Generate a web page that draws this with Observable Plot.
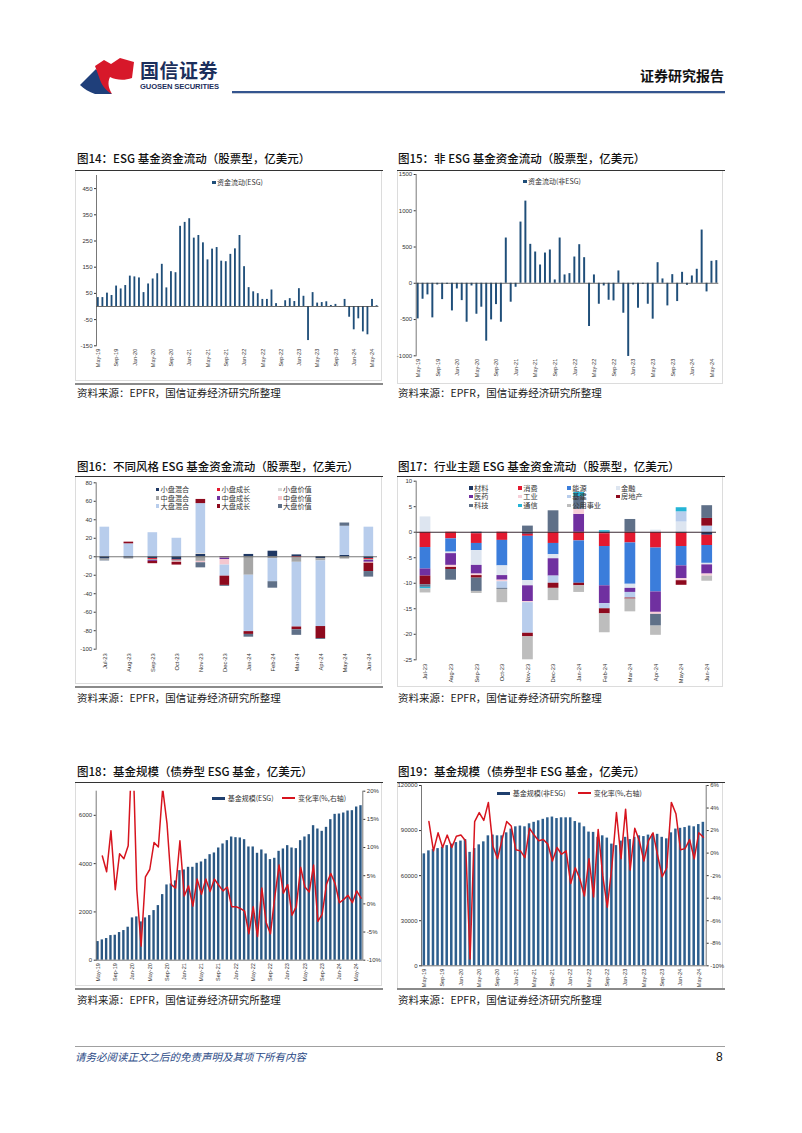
<!DOCTYPE html>
<html><head><meta charset="utf-8">
<script src="https://cdn.jsdelivr.net/npm/d3@7"></script>
<script src="https://cdn.jsdelivr.net/npm/@observablehq/plot@0.6"></script>
<style>
body{margin:0;background:#fff;}
#page{position:relative;width:802px;height:1133px;overflow:hidden;font-family:"Noto Sans CJK SC","Noto Sans",sans-serif;color:#222;background:#fff;}
.t{position:absolute;white-space:nowrap;}
.title{font-size:11.5px;line-height:14px;font-weight:500;color:#111;}
.src{font-size:10.5px;line-height:14px;color:#222;}
.leg{position:absolute;white-space:nowrap;font-size:7px;line-height:8px;height:8px;color:#333;font-family:"Noto Sans CJK SC",sans-serif;}
.sq{display:inline-block;width:3.5px;height:3.5px;margin-right:1.5px;vertical-align:1px;}
</style></head><body><div id="page"></div>
<script>
// ---------- DATA ----------
const months = ["May-19","Jun-19","Jul-19","Aug-19","Sep-19","Oct-19","Nov-19","Dec-19",
"Jan-20","Feb-20","Mar-20","Apr-20","May-20","Jun-20","Jul-20","Aug-20","Sep-20","Oct-20","Nov-20","Dec-20",
"Jan-21","Feb-21","Mar-21","Apr-21","May-21","Jun-21","Jul-21","Aug-21","Sep-21","Oct-21","Nov-21","Dec-21",
"Jan-22","Feb-22","Mar-22","Apr-22","May-22","Jun-22","Jul-22","Aug-22","Sep-22","Oct-22","Nov-22","Dec-22",
"Jan-23","Feb-23","Mar-23","Apr-23","May-23","Jun-23","Jul-23","Aug-23","Sep-23","Oct-23","Nov-23","Dec-23",
"Jan-24","Feb-24","Mar-24","Apr-24","May-24","Jun-24"];
const tickMonths = ["May-19","Sep-19","Jan-20","May-20","Sep-20","Jan-21","May-21","Sep-21","Jan-22","May-22","Sep-22","Jan-23","May-23","Sep-23","Jan-24","May-24"];

const flowESG = [34,34,51,42,78,67,80,116,113,109,53,86,105,125,161,71,133,129,306,321,
335,261,271,243,178,219,225,173,171,199,220,271,152,72,56,49,27,27,63,11,
-3,22,30,19,68,39,-130,53,13,15,18,4,8,-1,27,-41,-89,-47,-97,-108,27,3];
const flowNonESG = [-491,-220,-160,-477,-23,-225,-14,-381,-78,-239,-537,-37,-427,-330,-798,-505,-294,-537,624,-261,
-55,844,1133,537,431,252,417,459,46,624,115,133,362,532,353,-596,115,-289,-37,-234,
-243,170,-413,-1009,-23,-344,-14,-289,-495,284,60,-312,119,-252,151,-28,101,193,734,-119,303,312];

const months12 = ["Jul-23","Aug-23","Sep-23","Oct-23","Nov-23","Dec-23","Jan-24","Feb-24","Mar-24","Apr-24","May-24","Jun-24"];

// Fig16 style series
const styleNames = ["小盘混合","小盘成长","小盘价值","中盘混合","中盘成长","中盘价值","大盘混合","大盘成长","大盘价值"];
const styleColors = ["#1f3864","#e3192f","#d9d9d9","#a6a6a6","#7030a0","#f4c7cf","#b8cdec","#8e0a1e","#5f7088"];
const smallBlend  = [-2.5,-1.5,-2,-3.5,2.5,-0.5,2.5,6,2,-2,1.5,-2];
const smallGrowth = [0,0,-1,-0.5,0,-0.5,0,0,-1,0,0,-1];
const smallValue  = [0,0,0,0,1,0,0,0,0,0,0,0];
const midBlend    = [-1.5,-1,-1,-1,-5,-0.5,-20,-2,-5,-2.5,-2.5,-1];
const midGrowth   = [0,0,-1,0,0,-1.5,0,0,0,0,0,-2];
const midValue    = [0,0,0,-1,-1.5,-6,0,0,0,0,0,-1];
const largeBlend  = [32,14,26,20,54,-12,-61,-25,-70,-71,31.5,32];
const largeGrowth = [0,1.8,-2.5,-3,4.5,-10,-3,0,-3,-13,0,-9];
const largeValue  = [-0.5,0,0,0,-5.5,-1,-3,-7,-6,-1,3.5,-6];
const styleSeries = [smallBlend,smallGrowth,smallValue,midBlend,midGrowth,midValue,largeBlend,largeGrowth,largeValue];

// Fig17 sector series
const sectorNames = ["材料","消费","能源","金融","医药","工业","基建","房地产","科技","通信","公用事业"];
const sectorColors = ["#1f3864","#e3192f","#3b7ddb","#dde5f0","#7030a0","#f7cfd8","#b8cdec","#8e0a1e","#5f7088","#24b4d6","#bdbdbd"];
const materials = [0,0,-0.3,0,-0.4,0,0,-0.3,0,0,-0.2,-0.6];
const consumer  = [-3,-1.3,-1.9,-1.6,-0.4,-2.2,-1.7,-2.5,-2.1,-3.1,-2.6,-2];
const energy    = [-4.2,-2.6,-1.4,-5,-8.7,-2.2,-8.3,-7.7,-8.1,-8.6,-3.8,-3.5];
const financial = [3,-0.3,-2.9,-1.9,-1,-0.8,0,0,-0.8,0.4,2,-0.3];
const health    = [-1.4,-2.3,-1.7,-0.9,-3.1,-3.4,3.5,-3.5,-0.8,-4,-2.5,-1.8];
const industry  = [0,-0.4,-0.3,-0.3,-0.2,0,1,0,0,-0.4,-0.4,-0.4];
const infra     = [0,0,0,-1.3,-6,-1.4,0,-1,-1.1,0,2,1.2];
const realEstate= [-1.7,-0.4,-0.5,0,-0.7,-1,-0.5,-1,-0.2,0,-0.9,1.5];
const tech      = [-0.5,-2.1,-2.6,-0.2,1.2,4.2,2.5,0,2.5,-2.3,0,2.5];
const telecom   = [-0.3,0,0,0,0,0,0.8,0.3,0,0,0.8,0];
const utilities = [-0.8,0,-0.4,-2.6,-4.5,-2.4,-1.3,-3.7,-2.5,-1.8,0,-1];
const sectorSeries = [materials,consumer,energy,financial,health,industry,infra,realEstate,tech,telecom,utilities];

// Fig18 ESG bond funds
const sizeESG = [772,841,897,1020,1034,1145,1228,1366,1752,1793,1586,1752,1848,2055,2262,2717,3117,3159,3283,3710,
3738,3848,3848,4014,4069,4179,4372,4441,4648,4814,4952,5103,5076,5062,4993,4690,4690,4428,4566,4400,
4166,4221,4510,4607,4745,4648,4621,4952,5103,5200,5572,5434,5338,5503,5821,6041,6055,6097,6179,6193,6345,6400];
const rateESG = [null,8.5,5.7,13.0,2.5,8.9,8.0,10.3,
30,2.5,-7.5,4.8,6.1,10.9,10.1,20.5,14.3,3.4,2.8,11.2,
1.4,3.2,-0.4,4.4,1.7,4.4,2.2,4.4,3.3,2.3,3.0,-0.5,
-0.5,-0.8,-1.3,-5.3,-0.5,-5.8,2.8,-3.3,-5.3,1.2,6.9,1.9,
3.4,-2.0,-0.5,6.5,3.0,2.1,6.9,-3.1,-1.8,3.5,5.4,3.6,
0.2,0.8,1.5,0.2,2.3,1.0];

// Fig19 non-ESG bond funds
const sizeNonESG = [74500,76500,77500,78000,79000,80000,81000,82000,
83000,84000,75500,78000,80500,82500,86500,87000,86500,86500,88500,91000,
92500,93000,92500,94500,95500,96500,97500,98500,99000,98000,98500,98500,
98500,96000,95000,92500,89000,88800,85500,86500,85000,81000,80000,83000,
85500,84000,85500,86500,86000,87000,87500,87500,85500,84500,88500,91000,
91500,92000,93000,92500,94000,95500];
const rateNonESG = [null,2.8,0.2,1.8,0.5,1.6,0.5,1.5,
1.6,1.1,-9.4,2.8,3.6,2.9,4.5,0.6,-0.5,1.2,2.8,2.4,
0.3,0.2,-0.4,2.2,1.6,1.1,1.2,0.8,-0.7,0.5,-0.1,0.2,
-2.7,-1.3,-2.3,-3.8,-0.5,-3.9,2.1,-2.0,-4.8,-1.2,3.6,-0.5,
3.9,-1.5,2.2,1.1,-0.7,1.1,1.8,-0.2,-2.1,-1.3,4.5,3.5,
0.3,0.4,1.2,-0.5,1.8,1.4];

// ---------- HELPERS ----------
const page = document.getElementById("page");
function txt(x, y, s, cls, extra){ const d=document.createElement("div"); d.className="t "+(cls||""); d.style.left=x+"px"; d.style.top=y+"px"; if(extra) Object.assign(d.style, extra); d.textContent=s; page.appendChild(d); return d; }
function box(x, y, w, h, css){ const d=document.createElement("div"); d.style.position="absolute"; d.style.left=x+"px"; d.style.top=y+"px"; d.style.width=w+"px"; d.style.height=h+"px"; Object.assign(d.style, css); page.appendChild(d); return d; }
function place(node, x, y){ const w=document.createElement("div"); w.style.position="absolute"; w.style.left=x+"px"; w.style.top=y+"px"; w.appendChild(node); page.appendChild(w); return node; }
function legSq(x, y, color, label, fs){ const d=document.createElement("div"); d.className="leg"; d.style.left=x+"px"; d.style.top=(y-4)+"px"; if(fs) d.style.fontSize=fs+"px"; d.innerHTML='<span class="sq" style="background:'+color+'"></span>'; d.appendChild(document.createTextNode(label)); page.appendChild(d); }
function legLine(x, y, color, h, label){ const d=document.createElement("div"); d.className="leg"; d.style.left=x+"px"; d.style.top=(y-4)+"px"; d.innerHTML='<span style="display:inline-block;width:13px;height:'+h+'px;background:'+color+';margin-right:3px;vertical-align:'+(h>2?1.5:2.5)+'px"></span>'; d.appendChild(document.createTextNode(label)); page.appendChild(d); }
const baseStyle = {fontFamily:"Liberation Sans, Arial, sans-serif", fontSize:"6px", color:"#333", background:"transparent", overflow:"visible"};
const plain = d => String(d);

// ---------- HEADER ----------
const NS="http://www.w3.org/2000/svg";
const logo=document.createElementNS(NS,"svg"); logo.setAttribute("width","60"); logo.setAttribute("height","40");
logo.innerHTML='<path d="M2,28 L18,12 C22,16 25,22 27,28 C29,32 31,35 34,37 L17,37 C11,35 6,32 2,28 Z" fill="#1f3f7a"/>'+
'<path d="M17,9 L26,3 L33,7 L42,1 L56,5 L54,21 C46,24 38,23 32,20 C29,26 31,32 34,37 C27,33 23,27 21,20 Z" fill="#d7182a"/>';
place(logo, 78, 57);
txt(140, 58, "国信证券", "", {fontSize:"19px", lineHeight:"24px", color:"#1c2f5c", fontWeight:"600", letterSpacing:"0.5px"});
txt(140, 82, "GUOSEN SECURITIES", "", {fontSize:"7.6px", lineHeight:"9px", color:"#1c2f5c", fontWeight:"bold", fontFamily:"Liberation Sans, Arial, sans-serif", letterSpacing:"-0.1px"});
txt(640, 66, "证券研究报告", "", {fontSize:"14px", lineHeight:"18px", fontWeight:"bold", color:"#111"});
box(232, 91, 493, 2, {background:"#34558f"});
box(232, 93, 493, 1, {background:"#c9cfd9"});

// ---------- PANEL FRAMES / TEXT ----------
const rows = [{tt:151, line:170, sep:383, src:386}, {tt:459, line:476, sep:686, src:691}, {tt:764, line:782, sep:988, src:993}];
const titles = [["图14：ESG 基金资金流动（股票型，亿美元）","图15：非 ESG 基金资金流动（股票型，亿美元）"],
["图16：不同风格 ESG 基金资金流动（股票型，亿美元）","图17：行业主题 ESG 基金资金流动（股票型，亿美元）"],
["图18：基金规模（债券型 ESG 基金，亿美元）","图19：基金规模（债券型非 ESG 基金，亿美元）"]];
rows.forEach((r, i) => {
  box(75, r.line, 307, r.sep - r.line - 2, {border:"1px solid #dcdcdc", borderTop:"none", boxSizing:"border-box"});
  box(397, r.line, 326, r.sep - r.line + 1, {border:"1px solid #dcdcdc", borderTop:"none", boxSizing:"border-box"});
  txt(77, r.tt, titles[i][0], "title");
  txt(398, r.tt, titles[i][1], "title");
  box(75, r.line, 308, 1, {background:"#333"});
  box(397, r.line, 328, 1, {background:"#333"});
  box(75, r.sep, 308, 1.5, {background:"#8a8a8a"});
  if (i === 2) box(397, r.sep, 328, 1.5, {background:"#8a8a8a"});
  txt(77, r.src, "资料来源：EPFR，国信证券经济研究所整理", "src");
  txt(398, r.src, "资料来源：EPFR，国信证券经济研究所整理", "src");
});

// ---------- FIG 14 ----------
const d14 = months.map((m, i) => ({m, v: flowESG[i]}));
place(Plot.plot({
  width:308, height:210, marginLeft:21, marginRight:4.6, marginTop:4, marginBottom:35.7,
  style: baseStyle,
  x:{type:"band", domain:months, paddingInner:0.6, paddingOuter:0.2, round:false, label:null},
  y:{domain:[-150,500], label:null},
  marks:[
    Plot.barY(d14, {x:"m", y:"v", fill:"#1f4e79"}),
    Plot.ruleY([0], {stroke:"#444", strokeWidth:0.8}),
    Plot.frame({anchor:"left", stroke:"#555", strokeWidth:0.8}),
    Plot.axisY([-150,-50,50,150,250,350,450], {tickSize:2, tickPadding:2, fontSize:6, tickFormat:plain}),
    Plot.axisX(tickMonths, {anchor:"bottom", tickRotate:-90, tickSize:0, tickPadding:3, fontSize:5.5})
  ]
}), 75, 171);
legSq(212, 182, "#1f4e79", "资金流动(ESG)");

// ---------- FIG 15 ----------
const d15 = months.map((m, i) => ({m, v: flowNonESG[i]}));
place(Plot.plot({
  width:328, height:210, marginLeft:18.7, marginRight:6.7, marginTop:3, marginBottom:25.7,
  style: baseStyle,
  x:{type:"band", domain:months, paddingInner:0.6, paddingOuter:0.2, round:false, label:null},
  y:{domain:[-1000,1500], label:null},
  marks:[
    Plot.barY(d15, {x:"m", y:"v", fill:"#1f4e79"}),
    Plot.ruleY([0], {stroke:"#444", strokeWidth:0.8}),
    Plot.frame({anchor:"left", stroke:"#555", strokeWidth:0.8}),
    Plot.axisY([-1000,-500,0,500,1000,1500], {tickSize:2, tickPadding:2, fontSize:6, tickFormat:plain}),
    Plot.axisX(tickMonths, {anchor:"bottom", tickRotate:-90, tickSize:0, tickPadding:3, fontSize:5.5})
  ]
}), 397, 171);
legSq(523, 181, "#1f4e79", "资金流动(非ESG)");

// ---------- FIG 16 ----------
const d16 = [];
styleNames.forEach((s, j) => months12.forEach((m, i) => d16.push({m, s, v: styleSeries[j][i]})));
place(Plot.plot({
  width:308, height:205, marginLeft:20.7, marginRight:6, marginTop:5.3, marginBottom:33.3,
  style: baseStyle,
  x:{type:"band", domain:months12, paddingInner:0.6, paddingOuter:0.16, round:false, label:null},
  y:{domain:[-100,80], label:null},
  color:{domain:styleNames, range:styleColors},
  marks:[
    Plot.barY(d16, {x:"m", y:"v", fill:"s", z:"s"}),
    Plot.ruleY([0], {stroke:"#555", strokeWidth:0.8}),
    Plot.frame({anchor:"left", stroke:"#555", strokeWidth:0.8}),
    Plot.axisY([-100,-80,-60,-40,-20,0,20,40,60,80], {tickSize:2, tickPadding:2, fontSize:6, tickFormat:plain}),
    Plot.axisX(months12, {anchor:"bottom", tickRotate:-90, tickSize:0, tickPadding:4, fontSize:5.8})
  ]
}), 75, 477);
const c16x = [155.5, 216.5, 278], r16y = [489.3, 497.7, 505.9];
styleNames.forEach((s, j) => legSq(c16x[j % 3], r16y[Math.floor(j / 3)], styleColors[j], s, 7.2));

// ---------- FIG 17 ----------
const d17 = [];
sectorNames.forEach((s, j) => months12.forEach((m, i) => d17.push({m, s, v: sectorSeries[j][i]})));
place(Plot.plot({
  width:328, height:207, marginLeft:18.7, marginRight:9, marginTop:3.7, marginBottom:24.7,
  style: baseStyle,
  x:{type:"band", domain:months12, paddingInner:0.58, paddingOuter:0.153, round:false, label:null},
  y:{domain:[-25,10], label:null},
  color:{domain:sectorNames, range:sectorColors},
  marks:[
    Plot.barY(d17, {x:"m", y:"v", fill:"s", z:"s"}),
    Plot.ruleY([0], {stroke:"#3a2a33", strokeWidth:1.2}),
    Plot.frame({anchor:"left", stroke:"#555", strokeWidth:0.8}),
    Plot.axisY([-25,-20,-15,-10,-5,0,5,10], {tickSize:2, tickPadding:2, fontSize:6, tickFormat:plain}),
    Plot.axisX(months12, {anchor:"bottom", tickRotate:-90, tickSize:0, tickPadding:4, fontSize:5.8})
  ]
}), 397, 477);
const c17x = [469, 518.3, 567.3, 616], r17y = [487.7, 496.3, 505];
sectorNames.forEach((s, j) => legSq(c17x[j % 4], r17y[Math.floor(j / 4)], sectorColors[j], s, 7.2));

// ---------- FIG 18 ----------
const r18min = -10, r18max = 20, y18max = 7000;
const map18 = r => (r - r18min) / (r18max - r18min) * y18max;
const d18 = months.map((m, i) => ({m, v: sizeESG[i], r: rateESG[i]}));
place(Plot.plot({
  width:308, height:203, marginLeft:20.7, marginRight:20.7, marginTop:7.7, marginBottom:26.3,
  style: baseStyle,
  x:{type:"band", domain:months, paddingInner:0.45, paddingOuter:0.145, round:false, label:null},
  y:{domain:[0, y18max], label:null},
  marks:[
    Plot.barY(d18, {x:"m", y:"v", fill:"#2a5783"}),
    Plot.line(d18.filter(d => d.r != null), {x:"m", y: d => map18(d.r), stroke:"#d7141e", strokeWidth:1.5, clip:true}),
    Plot.ruleY([0], {stroke:"#555", strokeWidth:0.8}),
    Plot.frame({anchor:"left", stroke:"#555", strokeWidth:0.8}),
    Plot.frame({anchor:"right", stroke:"#555", strokeWidth:0.8}),
    Plot.axisY([0,2000,4000,6000], {anchor:"left", tickSize:2, tickPadding:2, fontSize:6, tickFormat:plain}),
    Plot.axisY([-10,-5,0,5,10,15,20].map(map18), {anchor:"right", tickSize:2, tickPadding:2, fontSize:6,
      tickFormat: d => Math.round(d / y18max * (r18max - r18min) + r18min) + "%"}),
    Plot.axisX(tickMonths, {anchor:"bottom", tickRotate:-90, tickSize:0, tickPadding:3, fontSize:5.5})
  ]
}), 75, 783);
legLine(211.7, 798.3, "#1f3f6e", 3, "基金规模(ESG)");
legLine(282, 798.3, "#d7141e", 1.5, "变化率(%,右轴)");

// ---------- FIG 19 ----------
const r19min = -10, r19max = 6, y19max = 120000;
const map19 = r => (r - r19min) / (r19max - r19min) * y19max;
const d19 = months.map((m, i) => ({m, v: sizeNonESG[i], r: rateNonESG[i]}));
place(Plot.plot({
  width:328, height:203, marginLeft:24, marginRight:19.3, marginTop:2, marginBottom:20.7,
  style: baseStyle,
  x:{type:"band", domain:months, paddingInner:0.45, paddingOuter:0.345, round:false, label:null},
  y:{domain:[0, y19max], label:null},
  marks:[
    Plot.barY(d19, {x:"m", y:"v", fill:"#2e5f8e"}),
    Plot.line(d19.filter(d => d.r != null), {x:"m", y: d => map19(d.r), stroke:"#d7141e", strokeWidth:1.5, clip:true}),
    Plot.ruleY([0], {stroke:"#555", strokeWidth:0.8}),
    Plot.frame({anchor:"left", stroke:"#555", strokeWidth:0.8}),
    Plot.frame({anchor:"right", stroke:"#555", strokeWidth:0.8}),
    Plot.axisY([0,30000,60000,90000,120000], {anchor:"left", tickSize:2, tickPadding:2, fontSize:6, tickFormat:plain}),
    Plot.axisY([-10,-8,-6,-4,-2,0,2,4,6].map(map19), {anchor:"right", tickSize:2, tickPadding:2, fontSize:6,
      tickFormat: d => Math.round(d / y19max * (r19max - r19min) + r19min) + "%"}),
    Plot.axisX(tickMonths, {anchor:"bottom", tickRotate:-90, tickSize:0, tickPadding:3, fontSize:5.5})
  ]
}), 397, 783);
legLine(496.7, 793.3, "#1f3f6e", 3, "基金规模(非ESG)");
legLine(577.7, 793.3, "#d7141e", 1.5, "变化率(%,右轴)");

// ---------- FOOTER ----------
box(75, 1046, 650, 1, {background:"#a0a0a0"});
txt(75, 1050, "请务必阅读正文之后的免责声明及其项下所有内容", "", {fontSize:"10.5px", lineHeight:"14px", fontStyle:"italic", color:"#2b4a86"});
txt(716, 1049, "8", "", {fontSize:"12px", lineHeight:"16px", color:"#111", fontFamily:"Liberation Sans, Arial, sans-serif"});
</script></body></html>
